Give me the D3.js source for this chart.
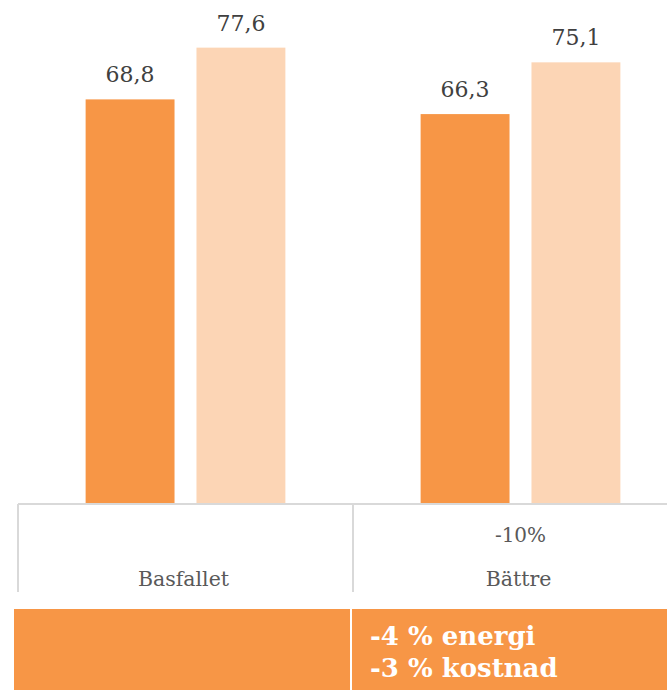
<!DOCTYPE html>
<html>
<head>
<meta charset="utf-8">
<script src="https://cdn.jsdelivr.net/npm/d3@7"></script>
<style>
  html, body { margin: 0; padding: 0; background: #fff; }
  svg { display: block; }
</style>
</head>
<body>
<div id="chart-container"></div>
<script>
const width = 667;
const height = 690;

const categories = ["Basfallet", "Bättre"];
const seriesKeys = ["energi", "kostnad"];
const energiValues = [68.8, 66.3];
const kostnadValues = [77.6, 75.1];
const subLabels = ["", "-10%"];
const boxLines = [[], ["-4 % energi", "-3 % kostnad"]];

const colors = { energi: "#f79646", kostnad: "#fcd5b5" };
const serif = "'DejaVu Serif', Georgia, serif";

const data = categories.map((cat, i) => ({
  category: cat,
  sub: subLabels[i],
  lines: boxLines[i],
  values: [
    { key: "energi", value: energiValues[i] },
    { key: "kostnad", value: kostnadValues[i] },
  ],
}));

const baseY = 504;

const svg = d3
  .select("#chart-container")
  .append("svg")
  .attr("width", width)
  .attr("height", height);

const x0 = d3.scaleBand().domain(categories).range([18, 688]).padding(0);

const x1 = d3
  .scaleBand()
  .domain(seriesKeys)
  .range([0, x0.bandwidth()])
  .paddingInner(0.198)
  .paddingOuter(0.61);

const y = d3.scaleLinear().domain([0, 85.7]).range([baseY, 0]);

// bars
const groups = svg
  .selectAll("g.group")
  .data(data)
  .join("g")
  .attr("class", "group")
  .attr("transform", (d) => `translate(${x0(d.category)},0)`);

groups
  .selectAll("rect")
  .data((d) => d.values)
  .join("rect")
  .attr("x", (d) => x1(d.key))
  .attr("y", (d) => y(d.value))
  .attr("width", x1.bandwidth())
  .attr("height", (d) => y(0) - y(d.value))
  .attr("fill", (d) => colors[d.key]);

groups
  .selectAll("text.value")
  .data((d) => d.values)
  .join("text")
  .attr("class", "value")
  .attr("x", (d) => x1(d.key) + x1.bandwidth() / 2)
  .attr("y", (d) => y(d.value) - 17)
  .attr("text-anchor", "middle")
  .attr("font-family", serif)
  .attr("font-size", 22)
  .attr("fill", "#404040")
  .text((d) => d3.format(".1f")(d.value).replace(".", ","));

// category table lines
svg
  .append("line")
  .attr("x1", x0.range()[0])
  .attr("x2", width)
  .attr("y1", baseY)
  .attr("y2", baseY)
  .attr("stroke", "#d9d9d9")
  .attr("stroke-width", 2);

svg
  .selectAll("line.div")
  .data(categories)
  .join("line")
  .attr("class", "div")
  .attr("x1", (d) => x0(d))
  .attr("x2", (d) => x0(d))
  .attr("y1", baseY)
  .attr("y2", 592)
  .attr("stroke", "#d9d9d9")
  .attr("stroke-width", 2);

svg
  .selectAll("text.cat")
  .data(data)
  .join("text")
  .attr("class", "cat")
  .attr("x", (d) => x0(d.category) + x0.bandwidth() / 2 - 2)
  .attr("y", 586)
  .attr("text-anchor", "middle")
  .attr("font-family", serif)
  .attr("font-size", 20.5)
  .attr("fill", "#595959")
  .text((d) => d.category);

svg
  .selectAll("text.sub")
  .data(data)
  .join("text")
  .attr("class", "sub")
  .attr("x", (d) => x0(d.category) + x0.bandwidth() / 2)
  .attr("y", 542)
  .attr("text-anchor", "middle")
  .attr("font-family", serif)
  .attr("font-size", 20)
  .attr("fill", "#595959")
  .text((d) => d.sub);

// orange summary box
svg
  .append("rect")
  .attr("x", 14)
  .attr("y", 609)
  .attr("width", width - 14)
  .attr("height", height - 609)
  .attr("fill", "#f79646");

svg
  .append("line")
  .attr("x1", x0(categories[1]) - 2)
  .attr("x2", x0(categories[1]) - 2)
  .attr("y1", 609)
  .attr("y2", height)
  .attr("stroke", "#fff")
  .attr("stroke-width", 2);

data.forEach((d) => {
  svg
    .selectAll(null)
    .data(d.lines)
    .join("text")
    .attr("x", x0(d.category) + 17)
    .attr("y", (t, i) => 645 + i * 32)
    .attr("font-family", serif)
    .attr("font-size", 26)
    .attr("font-weight", 700)
    .attr("fill", "#fff")
    .text((t) => t);
});
</script>
</body>
</html>
